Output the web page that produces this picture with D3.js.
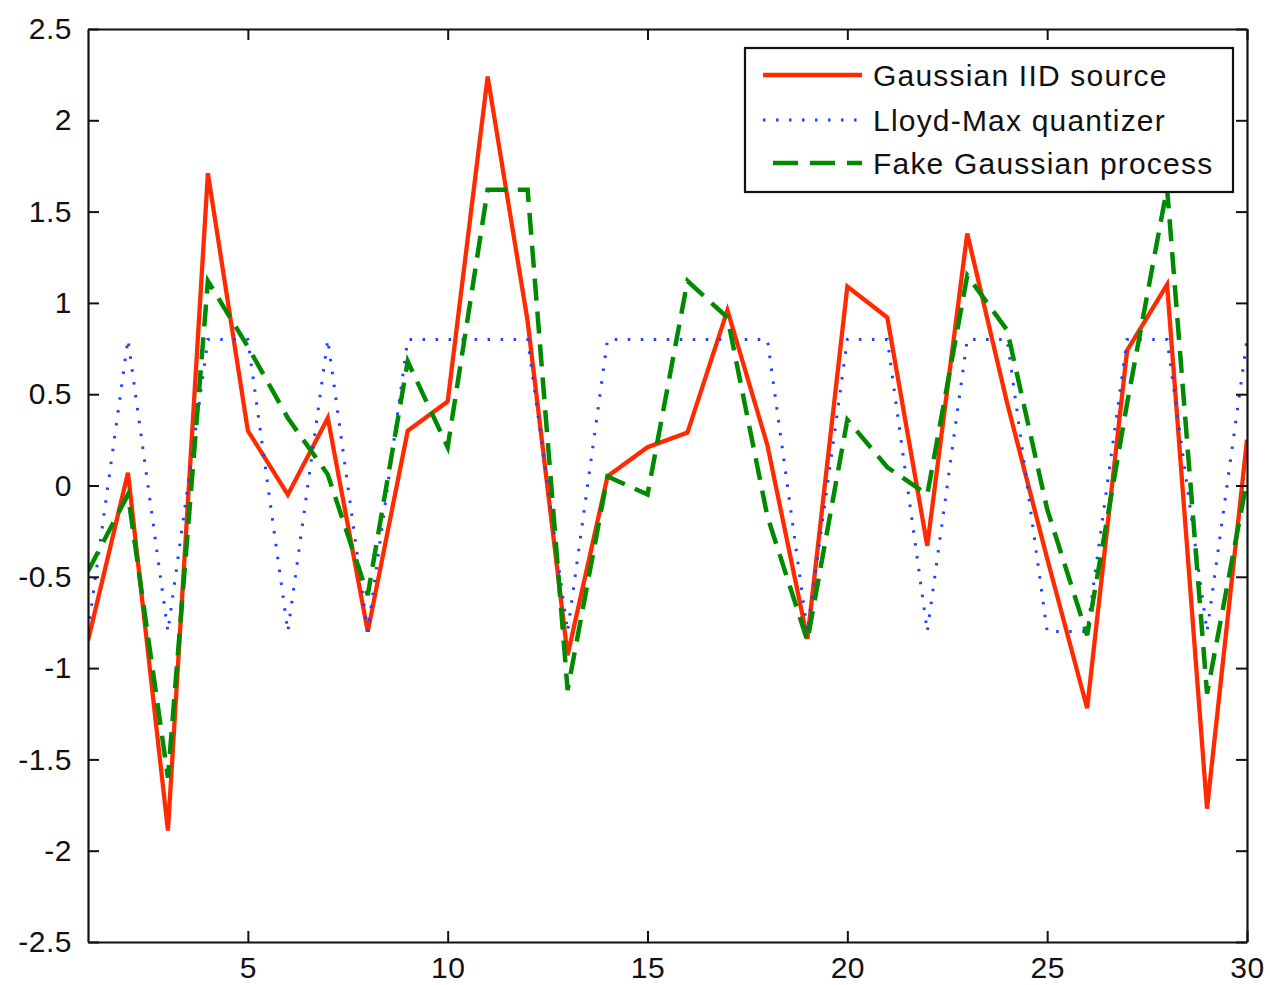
<!DOCTYPE html>
<html>
<head>
<meta charset="utf-8">
<script src="https://cdn.jsdelivr.net/npm/d3@7"></script>
<style>
    body { margin: 0; background: #fff; }
    .axis text { font-family: "Liberation Sans", Arial, sans-serif; font-size: 30px; fill: #111; letter-spacing: 0.5px; }
    .legend text { font-family: "Liberation Sans", Arial, sans-serif; font-size: 30px; fill: #111; letter-spacing: 1.2px; }
</style>
</head>
<body>
<div class="canvas"></div>
<script>
// sample index
const samples = [1, 2, 3, 4, 5, 6, 7, 8, 9, 10, 11, 12, 13, 14, 15,
                 16, 17, 18, 19, 20, 21, 22, 23, 24, 25, 26, 27, 28, 29, 30]

// Gaussian IID source (red)
const source = [-0.85, 0.07, -1.89, 1.71, 0.30, -0.05, 0.37, -0.80, 0.30, 0.46,
                2.24, 0.90, -0.93, 0.05, 0.21, 0.29, 0.96, 0.22, -0.84, 1.09,
                0.92, -0.33, 1.38, 0.45, -0.40, -1.22, 0.74, 1.10, -1.77, 0.25]

// Lloyd-Max quantizer (blue)
const quantized = [-0.8, 0.8, -0.8, 0.8, 0.8, -0.8, 0.8, -0.8, 0.8, 0.8,
                   0.8, 0.8, -0.8, 0.8, 0.8, 0.8, 0.8, 0.8, -0.8, 0.8,
                   0.8, -0.8, 0.8, 0.8, -0.8, -0.8, 0.8, 0.8, -0.8, 0.8]

// Fake Gaussian process (green)
const fake = [-0.47, -0.05, -1.60, 1.12, 0.76, 0.37, 0.06, -0.60, 0.68, 0.21,
              1.62, 1.62, -1.12, 0.05, -0.05, 1.12, 0.92, -0.17, -0.85, 0.36,
              0.10, -0.05, 1.15, 0.85, -0.13, -0.82, 0.45, 1.63, -1.14, 0.03]

const xTicks = [5, 10, 15, 20, 25, 30]
const yTicks = [-2.5, -2, -1.5, -1, -0.5, 0, 0.5, 1, 1.5, 2, 2.5]

const seriesNames = ['Gaussian IID source', 'Lloyd-Max quantizer', 'Fake Gaussian process']

// dimensions
const dims = { width: 1270, height: 985 }
const plot = { left: 88, right: 1247, top: 29, bottom: 942 }

const svg = d3.select('.canvas')
    .append('svg')
    .attr('width', dims.width)
    .attr('height', dims.height)

svg.append('rect')
    .attr('width', dims.width)
    .attr('height', dims.height)
    .attr('fill', '#fff')

// scales
const x = d3.scaleLinear().domain([1, 30]).range([plot.left, plot.right])
const y = d3.scaleLinear().domain([-2.5, 2.5]).range([plot.bottom, plot.top])

svg.append('clipPath')
    .attr('id', 'clip')
    .append('rect')
    .attr('x', plot.left)
    .attr('y', plot.top)
    .attr('width', plot.right - plot.left)
    .attr('height', plot.bottom - plot.top)

// series lines
const styles = [
    { data: source, color: '#ff2a00', width: 4.3, dash: null },
    { data: quantized, color: '#1e40ff', width: 3, dash: '2.5 10.5' },
    { data: fake, color: '#008a00', width: 4.5, dash: '22 11' }
]

const line = d3.line()
    .x((d, i) => x(samples[i]))
    .y(d => y(d))

const lines = svg.append('g').attr('clip-path', 'url(#clip)')

lines.selectAll('path')
    .data(styles)
    .enter()
    .append('path')
    .attr('fill', 'none')
    .attr('stroke', d => d.color)
    .attr('stroke-width', d => d.width)
    .attr('stroke-dasharray', d => d.dash)
    .attr('stroke-linejoin', 'miter')
    .attr('d', d => line(d.data))

// axes (ticks point inwards, labels only bottom and left)
const fmt = d => String(d)
const xAxis = d3.axisBottom(x).tickValues(xTicks).tickSizeInner(-11).tickSizeOuter(0).tickPadding(15).tickFormat(fmt)
const yAxis = d3.axisLeft(y).tickValues(yTicks).tickSizeInner(-11).tickSizeOuter(0).tickPadding(16).tickFormat(fmt)
const xTop = d3.axisTop(x).tickValues(xTicks).tickSizeInner(-11).tickSizeOuter(0).tickFormat('')
const yRight = d3.axisRight(y).tickValues(yTicks).tickSizeInner(-11).tickSizeOuter(0).tickFormat('')

const axes = [
    svg.append('g').attr('transform', `translate(0, ${plot.bottom})`).call(xAxis),
    svg.append('g').attr('transform', `translate(${plot.left}, 0)`).call(yAxis),
    svg.append('g').attr('transform', `translate(0, ${plot.top})`).call(xTop),
    svg.append('g').attr('transform', `translate(${plot.right}, 0)`).call(yRight)
]

axes.forEach(a => {
    a.attr('class', 'axis')
    a.attr('font-family', null).attr('font-size', null)
    a.select('.domain').attr('stroke', '#111').attr('stroke-width', 2.2)
    a.selectAll('.tick line').attr('stroke', '#111').attr('stroke-width', 2)
})

// legend
const legend = svg.append('g').attr('class', 'legend')

legend.append('rect')
    .attr('x', 745)
    .attr('y', 48)
    .attr('width', 488)
    .attr('height', 144)
    .attr('fill', '#fff')
    .attr('stroke', '#111')
    .attr('stroke-width', 2.2)

const rowY = [75, 120, 163]

const rows = legend.selectAll('g.row')
    .data(styles)
    .enter()
    .append('g')
    .attr('class', 'row')
    .attr('transform', (d, i) => `translate(0, ${rowY[i]})`)

rows.append('line')
    .attr('x1', (d, i) => i === 2 ? 773 : 763)
    .attr('x2', 862)
    .attr('y1', 0)
    .attr('y2', 0)
    .attr('stroke', d => d.color)
    .attr('stroke-width', d => d.width)
    .attr('stroke-dasharray', (d, i) => i === 2 ? '25 12' : d.dash)

rows.append('text')
    .attr('x', 873)
    .attr('y', 0)
    .attr('dy', '0.36em')
    .text((d, i) => seriesNames[i])
</script>
</body>
</html>
